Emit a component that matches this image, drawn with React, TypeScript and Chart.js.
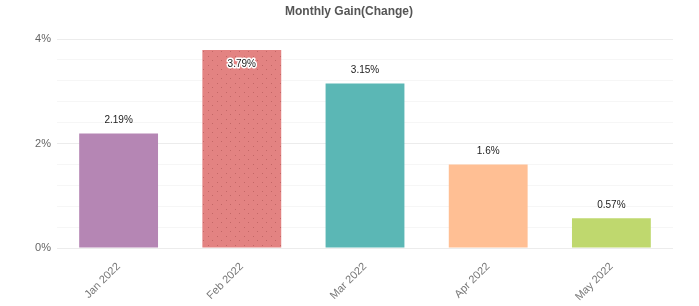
import React, { useEffect, useRef } from "react";
import { Chart, registerables } from "chart.js";

Chart.register(...registerables);

const categories = ["Jan 2022", "Feb 2022", "Mar 2022", "Apr 2022", "May 2022"];
const gains = [2.19, 3.79, 3.15, 1.6, 0.57];
const valueLabels = ["2.19%", "3.79%", "3.15%", "1.6%", "0.57%"];
const barColors = ["#b586b4", "#e38382", "#5bb7b5", "#ffbf94", "#bfd86e"];
const yTicksLabeled = [0, 2, 4];
const title = "Monthly Gain(Change)";

function makeDotPattern(base: string): CanvasPattern | string {
  const c = document.createElement("canvas");
  c.width = 9;
  c.height = 9;
  const ctx = c.getContext("2d");
  if (!ctx) return base;
  ctx.fillStyle = base;
  ctx.fillRect(0, 0, 9, 9);
  ctx.fillStyle = "rgba(170,80,80,0.55)";
  ctx.fillRect(1, 2, 1, 1);
  ctx.fillRect(5, 6, 1, 1);
  const p = ctx.createPattern(c, "repeat");
  return p || base;
}

export default function App() {
  const ref = useRef<HTMLCanvasElement | null>(null);

  useEffect(() => {
    if (!ref.current) return;
    const bg = barColors.map((c, i) => (i === 1 ? makeDotPattern(c) : c));

    const labelPlugin = {
      id: "valueLabels",
      afterDatasetsDraw(chart: any) {
        const ctx = chart.ctx;
        const meta = chart.getDatasetMeta(0);
        ctx.save();
        ctx.font = "10px 'Liberation Sans', Arial, sans-serif";
        ctx.textAlign = "center";
        ctx.textBaseline = "middle";
        meta.data.forEach((bar: any, i: number) => {
          const txt = valueLabels[i];
          let y = bar.y - 13;
          const inside = y < chart.chartArea.top + 4;
          if (inside) {
            y = bar.y + 14;
            ctx.lineWidth = 3;
            ctx.strokeStyle = "#ffffff";
            ctx.lineJoin = "round";
            ctx.strokeText(txt, bar.x, y);
          }
          ctx.fillStyle = "#222222";
          ctx.fillText(txt, bar.x, y);
        });
        ctx.restore();
      },
    };

    const titlePlugin = {
      id: "customTitle",
      afterDraw(chart: any) {
        const ctx = chart.ctx;
        ctx.save();
        ctx.font = "bold 12px 'Liberation Sans', Arial, sans-serif";
        ctx.fillStyle = "#555555";
        ctx.textAlign = "center";
        ctx.textBaseline = "middle";
        ctx.fillText(title, 349, 12);
        ctx.restore();
      },
    };

    const chart = new Chart(ref.current, {
      type: "bar",
      data: {
        labels: categories,
        datasets: [
          {
            data: gains,
            backgroundColor: bg as any,
            borderWidth: 0,
            barPercentage: 0.8,
            categoryPercentage: 0.8,
          },
        ],
      },
      options: {
        responsive: false,
        animation: false,
        layout: { padding: { top: 39, right: 26, left: 0, bottom: 0 } },
        plugins: {
          legend: { display: false },
          title: { display: false },
          tooltip: { enabled: false },
        },
        scales: {
          x: {
            grid: { display: false },
            border: { display: false },
            ticks: {
              color: "#777777",
              font: { size: 11, family: "'Liberation Sans', Arial, sans-serif" },
              minRotation: 45,
              maxRotation: 45,
              padding: 4,
            },
            afterFit(scale: any) {
              scale.height = 58;
            },
          },
          y: {
            min: 0,
            max: 4,
            border: { display: false },
            grid: {
              color: (c: any) =>
                c.tick && yTicksLabeled.includes(Math.round(c.tick.value * 10) / 10)
                  ? "#ececec"
                  : "#f6f6f6",
              drawTicks: false,
            },
            ticks: {
              stepSize: 0.4,
              color: "#666666",
              padding: 6,
              font: { size: 11, family: "'Liberation Sans', Arial, sans-serif" },
              callback: (v: any) => {
                const n = Math.round(Number(v) * 10) / 10;
                return yTicksLabeled.includes(n) ? n + "%" : "";
              },
            },
            afterFit(scale: any) {
              scale.width = 57;
            },
          },
        },
      },
      plugins: [labelPlugin, titlePlugin],
    });
    return () => chart.destroy();
  }, []);

  return (
    <div style={{ position: "fixed", left: 0, top: 0, width: 699, height: 306, background: "#fff" }}>
      <canvas ref={ref} width={699} height={306} style={{ width: 699, height: 306 }} />
    </div>
  );
}
